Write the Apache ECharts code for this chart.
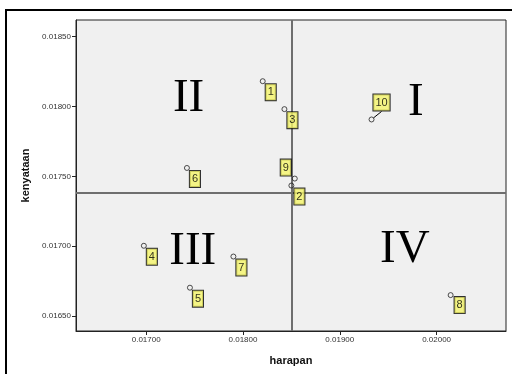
<!DOCTYPE html>
<html><head><meta charset="utf-8">
<script src="https://cdn.jsdelivr.net/npm/echarts@6/dist/echarts.min.js"></script>
<style>html,body{margin:0;padding:0;background:#fff}#c{width:512px;height:374px}</style>
</head><body><div id="c"></div>
<script>
// Data
const ids = ['1','2','3','4','5','6','7','8','9','10'];
const harapan = [0.018204,0.018500,0.018428,0.016976,0.017452,0.017421,0.017901,0.020145,0.018535,0.019328];
const kenyataan = [0.018181,0.017434,0.017981,0.017003,0.016703,0.017560,0.016926,0.016650,0.017484,0.017907];
const meanHarapan = 0.018504;
const meanKenyataan = 0.017386;
const xTicks = [0.017,0.018,0.019,0.020];
const yTicks = [0.0165,0.0170,0.0175,0.0180,0.0185];
const quadNames = ['I','II','III','IV'];
const quadX = [0.019786,0.017438,0.017481,0.019672];
const quadY = [0.018048,0.018076,0.016980,0.016998];

// label offsets (px) - styling
const labOff = {0:[8,11],1:[8,11],2:[8,11],3:[8,11],4:[8,11],5:[8,11],6:[8,11],7:[9,10],8:[-9,-11],9:[10,-17]};

const chart = echarts.init(document.getElementById('c'));
const pts = ids.map((id,i)=>{
  const o = {value:[harapan[i],kenyataan[i]], name:id};
  if (i===9) o.labelLine = {show:true, lineStyle:{color:'#000',width:1}};
  return o;
});
chart.setOption({
  animation:false,
  graphic:[{type:'rect',shape:{x:6,y:10,width:600,height:500},style:{fill:'none',stroke:'#000',lineWidth:2},z:-10}],
  grid:{left:76,top:20,width:430,height:311,show:true,backgroundColor:'#f0f0f0',borderColor:'#222',borderWidth:1},
  xAxis:{type:'value',min:0.016275,max:0.020717,
    name:'harapan',nameLocation:'middle',nameGap:24,
    nameTextStyle:{fontFamily:'Liberation Sans',fontWeight:'bold',fontSize:11,color:'#111'},
    axisLine:{lineStyle:{color:'#222'}},
    axisTick:{customValues:xTicks,length:4,lineStyle:{color:'#222'}},
    axisLabel:{customValues:xTicks,formatter:v=>v.toFixed(5),fontFamily:'Liberation Sans',fontSize:8,color:'#333',margin:5},
    splitLine:{show:false}},
  yAxis:{type:'value',min:0.016393,max:0.018619,
    name:'kenyataan',nameLocation:'middle',nameGap:42,
    nameTextStyle:{fontFamily:'Liberation Sans',fontWeight:'bold',fontSize:11,color:'#111'},
    axisLine:{show:true,lineStyle:{color:'#222'}},
    axisTick:{show:true,customValues:yTicks,length:4,lineStyle:{color:'#222'}},
    axisLabel:{customValues:yTicks,formatter:v=>v.toFixed(5),fontFamily:'Liberation Sans',fontSize:8,color:'#333',margin:5},
    splitLine:{show:false}},
  series:[
    {type:'scatter',name:'quad',symbolSize:1,silent:true,
     itemStyle:{opacity:0},
     data:quadNames.map((n,i)=>({value:[quadX[i],quadY[i]],name:n})),
     label:{show:true,position:'inside',offset:[0,3],formatter:'{b}',fontFamily:'Liberation Serif',fontSize:47,color:'#000',
       textBorderWidth:0,opacity:1},
     markLine:{silent:true,z:1,symbol:'none',label:{show:false},lineStyle:{color:'#6e6e6e',width:2,type:'solid',opacity:1},
       emphasis:{disabled:true},
       data:[[{coord:[meanHarapan,0.016393]},{coord:[meanHarapan,0.018619]}],
             [{coord:[0.016275,meanKenyataan]},{coord:[0.020717,meanKenyataan]}]]},
     z:1},
    {type:'scatter',name:'pts',symbol:'circle',symbolSize:5,
     itemStyle:{color:'rgba(0,0,0,0)',borderColor:'#222',borderWidth:1},
     data:pts,
     label:{show:true,position:'inside',formatter:'{b}',fontFamily:'Liberation Sans',fontSize:11,color:'#000',
       textBorderWidth:0,
       backgroundColor:'#f5f56a',borderColor:'#000',borderWidth:1,padding:[1,2,1,2],lineHeight:14},
     labelLine:{show:false},
     labelLayout:function(p){const o=labOff[p.dataIndex];return o?{dx:o[0],dy:o[1]}:{};},
     z:3}
  ]
});
</script></body></html>
